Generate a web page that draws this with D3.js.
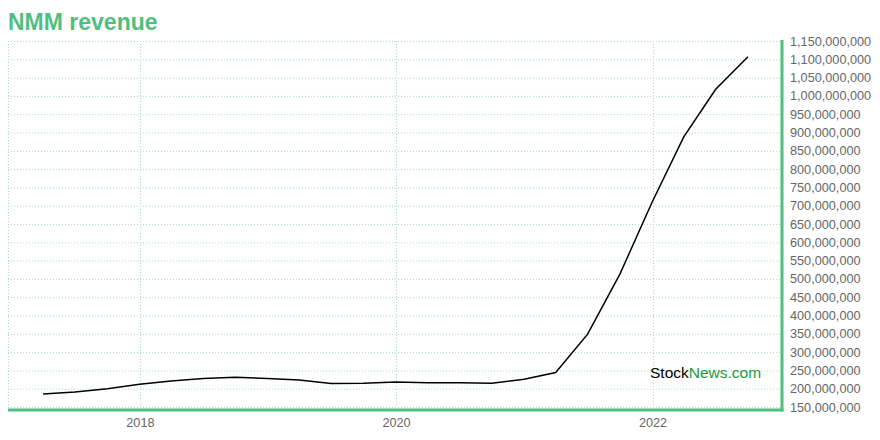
<!DOCTYPE html>
<html>
<head>
<meta charset="utf-8">
<script src="https://cdn.jsdelivr.net/npm/d3@7"></script>
<style>
html,body{margin:0;padding:0;background:#fff;}
svg{display:block;font-family:"Liberation Sans",Arial,Helvetica,sans-serif;}
</style>
</head>
<body>
<svg id="chart" width="880" height="440"></svg>
<script>
const dates = ["2017-03-31","2017-06-30","2017-09-30","2017-12-31","2018-03-31","2018-06-30","2018-09-30","2018-12-31","2019-03-31","2019-06-30","2019-09-30","2019-12-31","2020-03-31","2020-06-30","2020-09-30","2020-12-31","2021-03-31","2021-06-30","2021-09-30","2021-12-31","2022-03-31","2022-06-30","2022-09-30"];
const revenue = [185500000,191000000,200000000,212000000,221000000,228000000,231000000,228000000,224000000,214000000,215000000,218000000,216000000,216000000,215000000,226000000,244000000,349000000,513000000,710000000,888000000,1018000000,1107000000];
const yTicks = [150000000,200000000,250000000,300000000,350000000,400000000,450000000,500000000,550000000,600000000,650000000,700000000,750000000,800000000,850000000,900000000,950000000,1000000000,1050000000,1100000000,1150000000];
const xTicks = ["2018-01-01","2020-01-01","2022-01-01"];
const xDomain = ["2016-12-21","2023-01-05"];
const title = "NMM revenue";

const W = 880, H = 440;
const m = {left: 8, right: 98, top: 41, bottom: 33};
const green = "#4fbf80";
const gridColor = "#a9dcc2";
const parse = d3.utcParse("%Y-%m-%d");
const data = dates.map((d,i)=>({date: parse(d), value: revenue[i]}));

const svg = d3.select("#chart");
const x = d3.scaleUtc().domain(xDomain.map(parse)).range([m.left, W - m.right]);
const y = d3.scaleLinear().domain([150000000, 1150000000]).range([H - m.bottom, m.top]);

// title
svg.append("text").attr("x", 8).attr("y", 30)
  .attr("fill", green).attr("font-weight", "bold").attr("font-size", "23px")
  .text(title);

// horizontal grid
svg.append("g").selectAll("line").data(yTicks).join("line")
  .attr("x1", m.left).attr("x2", W - m.right)
  .attr("y1", d => y(d) + 0.5).attr("y2", d => y(d) + 0.5)
  .attr("stroke", gridColor).attr("stroke-width", 1).attr("stroke-dasharray", "1,2");

// vertical grid
svg.append("g").selectAll("line").data(xTicks.map(parse)).join("line")
  .attr("x1", d => Math.round(x(d)) + 0.5).attr("x2", d => Math.round(x(d)) + 0.5)
  .attr("y1", m.top).attr("y2", H - m.bottom)
  .attr("stroke", gridColor).attr("stroke-width", 1).attr("stroke-dasharray", "1,2");

// left border
svg.append("line").attr("x1", m.left + 0.5).attr("x2", m.left + 0.5)
  .attr("y1", m.top).attr("y2", H - m.bottom)
  .attr("stroke", gridColor).attr("stroke-dasharray", "1,2");

// line
const line = d3.line().x(d => x(d.date)).y(d => y(d.value));
svg.append("path").datum(data).attr("d", line)
  .attr("fill", "none").attr("stroke", "#000").attr("stroke-width", 1.5);

// watermark
const wm = svg.append("text").attr("x", 650).attr("y", 378).attr("font-size", "15.5px");
wm.append("tspan").attr("fill", "#000").text("Stock");
wm.append("tspan").attr("fill", "#1a9a3a").text("News.com");

// x axis
const xAxis = svg.append("g").attr("transform", `translate(0,${H - m.bottom + 3})`)
  .call(d3.axisBottom(x).tickValues(xTicks.map(parse)).tickFormat(d3.utcFormat("%Y")).tickSize(0).tickPadding(8));
xAxis.select(".domain").remove();
xAxis.selectAll("text").attr("fill", "#666").attr("font-size", "12.7px").attr("font-family", "Liberation Sans, Arial, sans-serif");

// y axis
const yAxis = svg.append("g").attr("transform", `translate(${W - m.right},0)`)
  .call(d3.axisRight(y).tickValues(yTicks).tickFormat(d3.format(",")).tickSize(0).tickPadding(8));
yAxis.select(".domain").remove();
yAxis.selectAll("text").attr("fill", "#666").attr("font-size", "12.7px").attr("font-family", "Liberation Sans, Arial, sans-serif");

// green axis lines
svg.append("line").attr("x1", m.left).attr("x2", W - m.right + 1.5)
  .attr("y1", H - m.bottom + 3).attr("y2", H - m.bottom + 3)
  .attr("stroke", green).attr("stroke-width", 3);
svg.append("line").attr("x1", W - m.right).attr("x2", W - m.right)
  .attr("y1", m.top - 1).attr("y2", H - m.bottom + 4.5)
  .attr("stroke", green).attr("stroke-width", 3);
</script>
</body>
</html>
